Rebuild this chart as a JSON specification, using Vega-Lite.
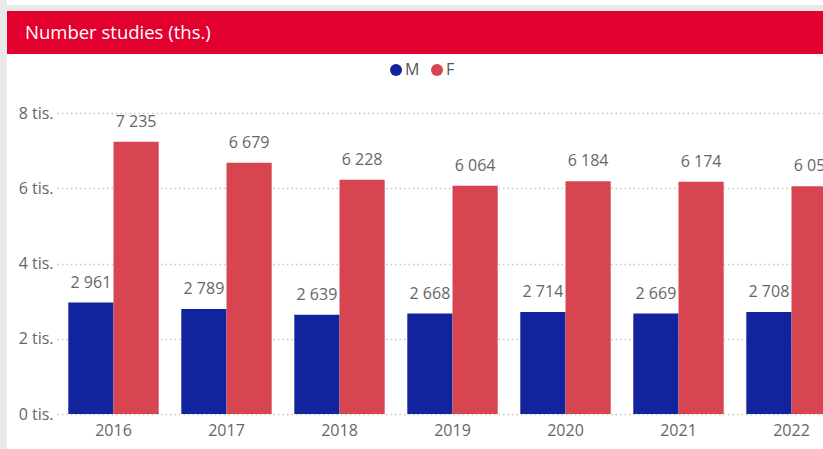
{
  "$schema": "https://vega.github.io/schema/vega-lite/v6.json",
  "background": "#E9E9E9",
  "padding": {"left": 7, "top": 0, "right": 0, "bottom": 0},
  "config": {
    "font": "Open Sans",
    "locale": {"number": {"decimal": ",", "thousands": " ", "grouping": [3], "currency": ["", ""]}}
  },
  "spacing": 6,
  "bounds": "flush",
  "datasets": {
    "blank": [],
    "header": [{"title": "Number studies (ths.)"}],
    "studies": [
      {"year": "2016", "sex": "M", "value": 2961},
      {"year": "2016", "sex": "F", "value": 7235},
      {"year": "2017", "sex": "M", "value": 2789},
      {"year": "2017", "sex": "F", "value": 6679},
      {"year": "2018", "sex": "M", "value": 2639},
      {"year": "2018", "sex": "F", "value": 6228},
      {"year": "2019", "sex": "M", "value": 2668},
      {"year": "2019", "sex": "F", "value": 6064},
      {"year": "2020", "sex": "M", "value": 2714},
      {"year": "2020", "sex": "F", "value": 6184},
      {"year": "2021", "sex": "M", "value": 2669},
      {"year": "2021", "sex": "F", "value": 6174},
      {"year": "2022", "sex": "M", "value": 2708},
      {"year": "2022", "sex": "F", "value": 6053}
    ]
  },
  "vconcat": [
    {
      "width": 816,
      "height": 5,
      "view": {"fill": "#ffffff", "stroke": null},
      "data": {"name": "blank"},
      "mark": {"type": "rect"},
      "encoding": {}
    },
    {
      "spacing": 0,
      "bounds": "flush",
      "vconcat": [
        {
          "width": 816,
          "height": 43,
          "view": {"fill": "#E2002F", "stroke": null},
          "data": {"name": "header"},
          "mark": {"type": "text", "align": "left", "baseline": "middle", "dx": 18, "fontSize": 18.5, "color": "#ffffff", "font": "Open Sans"},
          "encoding": {
            "x": {"datum": 0, "type": "quantitative", "scale": {"domain": [0, 1]}, "axis": null},
            "y": {"datum": 0.5, "type": "quantitative", "scale": {"domain": [0, 1]}, "axis": null},
            "text": {"field": "title"}
          }
        },
        {
          "width": 816,
          "height": 395,
          "view": {"fill": "#ffffff", "stroke": null},
          "data": {"name": "studies"},
          "encoding": {
            "x": {
              "field": "year", "type": "nominal",
              "scale": {"range": [50, 841], "paddingInner": 0.2, "paddingOuter": 0.1},
              "axis": {"title": null, "labelAngle": 0, "labelFontSize": 16, "labelColor": "#666666", "labelPadding": 8, "domain": false, "ticks": false, "tickSize": 0, "grid": false, "offset": -35}
            },
            "xOffset": {"field": "sex", "type": "nominal", "sort": ["M", "F"], "scale": {"paddingInner": 0, "paddingOuter": 0}},
            "y": {
              "field": "value", "type": "quantitative",
              "scale": {"domain": [0, 8000], "nice": false, "range": [360, 59]},
              "axis": {
                "title": null, "values": [0, 2000, 4000, 6000, 8000],
                "labelExpr": "format(datum.value / 1000, 'd') + ' tis.'",
                "labelFontSize": 16, "labelColor": "#666666", "labelPadding": 4,
                "domain": false, "ticks": false, "tickSize": 0, "offset": -50,
                "grid": true, "gridColor": "#c8c8c8", "gridDash": [1.5, 3], "gridWidth": 1.5
              }
            }
          },
          "layer": [
            {
              "mark": {"type": "bar", "clip": true},
              "encoding": {
                "color": {
                  "field": "sex", "type": "nominal",
                  "scale": {"domain": ["M", "F"], "range": ["#12239E", "#D64550"]},
                  "legend": {
                    "orient": "none", "legendX": 381, "legendY": 62, "direction": "horizontal",
                    "title": null, "symbolType": "circle", "symbolSize": 144, "symbolStrokeWidth": 0,
                    "labelFontSize": 16, "labelColor": "#555555", "labelOffset": 1, "columnPadding": 9
                  }
                }
              }
            },
            {
              "mark": {"type": "text", "clip": true, "baseline": "middle", "dy": -20, "fontSize": 16, "color": "#666666"},
              "encoding": {
                "text": {"field": "value", "type": "quantitative", "format": ",d"}
              }
            }
          ]
        }
      ]
    }
  ]
}
